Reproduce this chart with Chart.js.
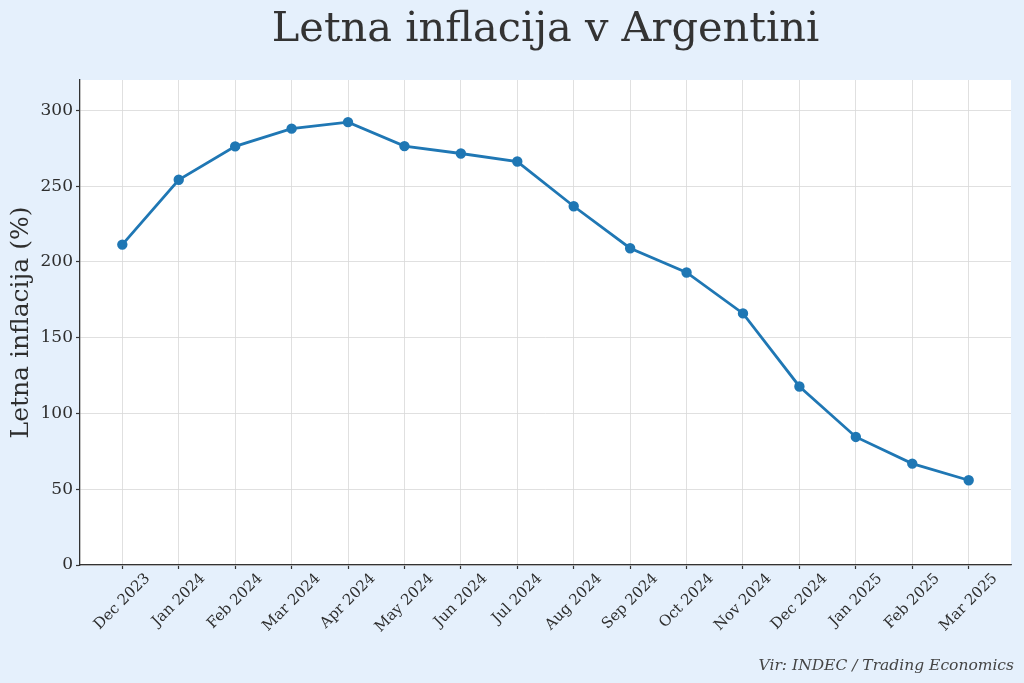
<!DOCTYPE html>
<html>
<head>
<meta charset="utf-8">
<script src="https://cdn.jsdelivr.net/npm/chart.js@4"></script>
<style>
html,body{margin:0;padding:0;background:#e5f0fc;}
#wrap{width:1024px;height:683px;}
</style>
</head>
<body>
<div id="wrap"><canvas id="c" width="1024" height="683"></canvas></div>
<script>
const months = ["Dec 2023","Jan 2024","Feb 2024","Mar 2024","Apr 2024","May 2024","Jun 2024","Jul 2024","Aug 2024","Sep 2024","Oct 2024","Nov 2024","Dec 2024","Jan 2025","Feb 2025","Mar 2025"];
const inflation = [211.4, 254.2, 276.2, 287.9, 292.2, 276.4, 271.5, 266.2, 236.7, 209.0, 193.0, 166.0, 117.8, 84.5, 66.9, 55.9];
const yTicks = [0, 50, 100, 150, 200, 250, 300];
const titleText = "Letna inflacija v Argentini";
const yTitle = "Letna inflacija (%)";
const sourceText = "Vir: INDEC / Trading Economics";

const FONT = "'DejaVu Serif', serif";
const XFONT_SIZE = 15;

const bgPlugin = {
  id: 'bg',
  beforeDraw(chart) {
    const {ctx, chartArea: a} = chart;
    ctx.save();
    ctx.fillStyle = '#e5f0fc';
    ctx.fillRect(0, 0, chart.width, chart.height);
    ctx.fillStyle = '#ffffff';
    ctx.fillRect(a.left, a.top, a.right - a.left, a.bottom - a.top);
    ctx.restore();
  }
};

// x tick labels rotated 45deg, bounding box centred on each tick (like the reference)
const xLabelPlugin = {
  id: 'xlabels',
  afterDraw(chart) {
    const {ctx} = chart;
    const xs = chart.scales.x;
    const top = chart.chartArea.bottom + 4 + 3;
    ctx.save();
    ctx.font = XFONT_SIZE + "px " + FONT;
    ctx.fillStyle = '#2e2e2e';
    ctx.textAlign = 'center';
    ctx.textBaseline = 'middle';
    const s = Math.SQRT1_2;
    months.forEach((m, i) => {
      const px = xs.getPixelForValue(i);
      const w = ctx.measureText(m).width;
      const h = XFONT_SIZE * 0.78;
      const bb = (w + h) * s;
      ctx.save();
      ctx.translate(px, top + bb / 2);
      ctx.rotate(-Math.PI / 4);
      ctx.fillText(m, 0, 0);
      ctx.restore();
    });
    ctx.restore();
  }
};

const gridOpts = {
  color: '#d8d8d8',
  lineWidth: 0.8,
  borderDash: [2.5, 2],
  drawTicks: true,
  tickLength: 4,
  tickColor: '#333333',
  tickWidth: 1.2,
  tickBorderDash: []
};

new Chart(document.getElementById('c'), {
  type: 'line',
  data: {
    datasets: [{
      data: inflation.map((v, i) => ({x: i, y: v})),
      borderColor: '#1f77b4',
      backgroundColor: '#1f77b4',
      borderWidth: 2.8,
      pointRadius: 3.8,
      pointHoverRadius: 3.8,
      tension: 0,
      fill: false
    }]
  },
  options: {
    responsive: false,
    animation: false,
    devicePixelRatio: 1,
    layout: {padding: {left: 0, right: 10, top: 0, bottom: 0}},
    plugins: {
      legend: {display: false},
      tooltip: {enabled: false},
      title: {
        display: true,
        text: titleText,
        fullSize: false,
        color: '#333333',
        font: {family: FONT, size: 41.5, weight: 'normal'},
        padding: {top: 5, bottom: 25.2}
      },
      subtitle: {
        display: true,
        text: sourceText,
        position: 'bottom',
        align: 'end',
        color: '#444444',
        font: {family: FONT, size: 15.5, style: 'italic', weight: 'normal'},
        padding: {top: 4, bottom: 7.4}
      }
    },
    scales: {
      x: {
        type: 'linear',
        min: -0.75,
        max: 15.75,
        afterBuildTicks(scale) { scale.ticks = months.map((m, i) => ({value: i})); },
        afterFit(scale) { scale.height = 88; },
        ticks: {
          display: false,
          autoSkip: false
        },
        grid: gridOpts,
        border: {display: true, color: '#333333', width: 1.3}
      },
      y: {
        type: 'linear',
        min: 0,
        max: 320,
        afterBuildTicks(scale) { scale.ticks = yTicks.map(v => ({value: v})); },
        afterFit(scale) { scale.width = 80; },
        ticks: {
          color: '#2e2e2e',
          padding: 3,
          font: {family: FONT, size: 17}
        },
        title: {
          display: true,
          text: yTitle,
          color: '#2e2e2e',
          font: {family: FONT, size: 25},
          padding: {top: 6, bottom: 0}
        },
        grid: gridOpts,
        border: {display: true, color: '#333333', width: 1.3}
      },
      yr: {
        type: 'linear',
        position: 'right',
        display: true,
        min: 0,
        max: 320,
        afterFit(scale) { scale.width = 3; },
        ticks: {display: false},
        grid: {display: false, drawTicks: false},
        border: {display: false}
      }
    }
  },
  plugins: [bgPlugin, xLabelPlugin]
});
</script>
</body>
</html>
